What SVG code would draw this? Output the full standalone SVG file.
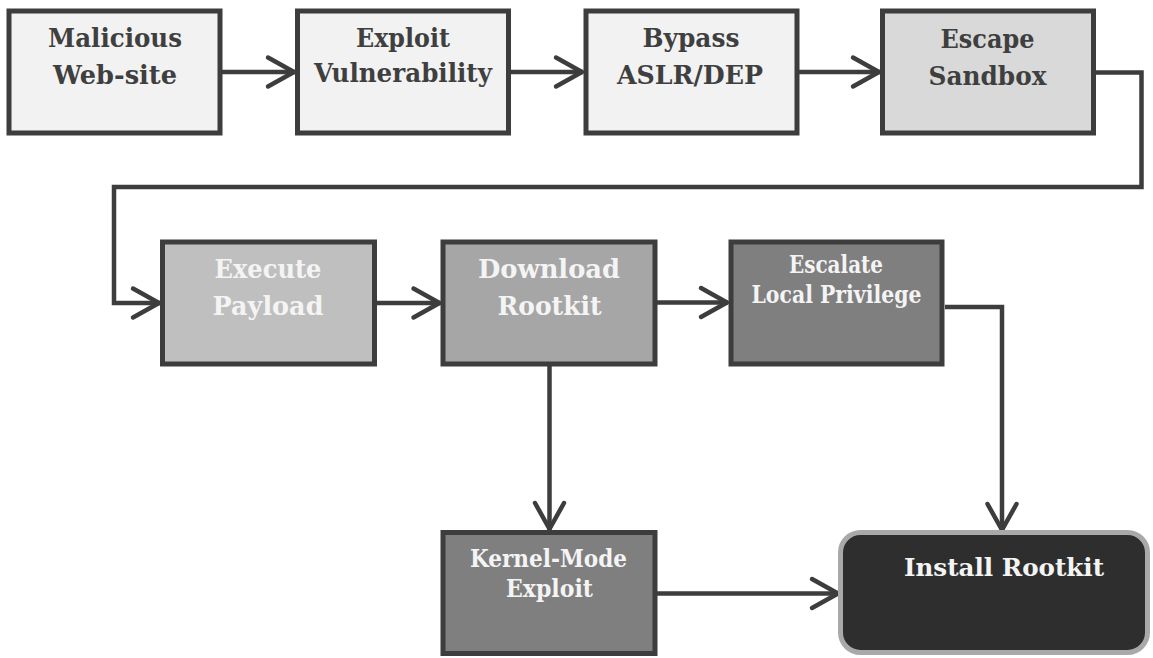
<svg xmlns="http://www.w3.org/2000/svg" width="1153" height="658" viewBox="0 0 1153 658">
  <defs>
    <marker id="chevron" markerUnits="userSpaceOnUse" orient="auto" refX="0" refY="0" markerWidth="40" markerHeight="40" overflow="visible">
      <path d="M-27,-14.5 L-1,0 L-27,14.5" fill="none" stroke="#3d3d3d" stroke-width="4.5" stroke-linecap="round" stroke-linejoin="round"/>
    </marker>
    <style>
      .box { stroke: #3d3d3d; stroke-width: 5; }
      .light { fill: #f2f2f2; }
      .mid { fill: #d9d9d9; }
      .g1 { fill: #bfbfbf; }
      .g2 { fill: #a6a6a6; }
      .g3 { fill: #7f7f7f; }
      .final { fill: #2e2e2e; stroke: #a9a9a9; stroke-width: 5; }
      .lbl { font-family: "DejaVu Serif", "Liberation Serif", serif; font-weight: bold; text-anchor: middle; }
      .dark { fill: #3f3f3f; font-size: 26.5px; }
      .pale { fill: #f4f4f4; font-size: 26.5px; }
      .small { fill: #f4f4f4; font-size: 24.5px; }
      .conn { fill: none; stroke: #3d3d3d; stroke-width: 4.5; marker-end: url(#chevron); }
    </style>
  </defs>

  <!-- connectors -->
  <g id="connectors">
    <path class="conn" d="M222,72 H295"/>
    <path class="conn" d="M511,72 H583"/>
    <path class="conn" d="M799,72 H880"/>
    <path class="conn" d="M1096,72.5 H1141.5 V187 H114 V303 H160"/>
    <path class="conn" d="M377,303 H440.5"/>
    <path class="conn" d="M657,302.5 H728"/>
    <path class="conn" d="M549.5,366 V530"/>
    <path class="conn" d="M945,307 H1002 V531"/>
    <path class="conn" d="M657,593.5 H839"/>
  </g>

  <!-- first row -->
  <g id="malicious-website">
    <rect class="box light" x="9" y="11" width="211" height="122"/>
    <text class="lbl dark" x="115" y="47" textLength="134" lengthAdjust="spacingAndGlyphs">Malicious</text>
    <text class="lbl dark" x="115" y="84" textLength="124" lengthAdjust="spacingAndGlyphs">Web-site</text>
  </g>
  <g id="exploit-vulnerability">
    <rect class="box light" x="297.5" y="11" width="211" height="122"/>
    <text class="lbl dark" x="403" y="47" textLength="94" lengthAdjust="spacingAndGlyphs">Exploit</text>
    <text class="lbl dark" x="403" y="82" textLength="178" lengthAdjust="spacingAndGlyphs">Vulnerability</text>
  </g>
  <g id="bypass-aslr-dep">
    <rect class="box light" x="586" y="11" width="211" height="122"/>
    <text class="lbl dark" x="691" y="47" textLength="97" lengthAdjust="spacingAndGlyphs">Bypass</text>
    <text class="lbl dark" x="690" y="84" textLength="146" lengthAdjust="spacingAndGlyphs">ASLR/DEP</text>
  </g>
  <g id="escape-sandbox">
    <rect class="box mid" x="882.5" y="11" width="211" height="122"/>
    <text class="lbl dark" x="987.5" y="48" textLength="94" lengthAdjust="spacingAndGlyphs">Escape</text>
    <text class="lbl dark" x="987.5" y="85" textLength="118" lengthAdjust="spacingAndGlyphs">Sandbox</text>
  </g>

  <!-- second row -->
  <g id="execute-payload">
    <rect class="box g1" x="162.5" y="242" width="212" height="122"/>
    <text class="lbl pale" x="268" y="278" textLength="107" lengthAdjust="spacingAndGlyphs">Execute</text>
    <text class="lbl pale" x="268" y="315" textLength="111" lengthAdjust="spacingAndGlyphs">Payload</text>
  </g>
  <g id="download-rootkit">
    <rect class="box g2" x="443" y="242" width="212" height="122"/>
    <text class="lbl pale" x="549" y="278" textLength="142" lengthAdjust="spacingAndGlyphs">Download</text>
    <text class="lbl pale" x="549.5" y="315" textLength="104" lengthAdjust="spacingAndGlyphs">Rootkit</text>
  </g>
  <g id="escalate-privilege">
    <rect class="box g3" x="731" y="242" width="211" height="122"/>
    <text class="lbl small" x="836" y="273" textLength="94" lengthAdjust="spacingAndGlyphs">Escalate</text>
    <text class="lbl small" x="836.5" y="303" textLength="170" lengthAdjust="spacingAndGlyphs">Local Privilege</text>
  </g>

  <!-- bottom row -->
  <g id="kernel-mode-exploit">
    <rect class="box g3" x="443" y="532.5" width="212" height="121"/>
    <text class="lbl small" x="548.5" y="567" textLength="157" lengthAdjust="spacingAndGlyphs">Kernel-Mode</text>
    <text class="lbl small" x="549.5" y="597" textLength="87" lengthAdjust="spacingAndGlyphs">Exploit</text>
  </g>
  <g id="install-rootkit">
    <rect class="final" x="840.5" y="532.5" width="307" height="120" rx="20" ry="20"/>
    <text class="lbl small" x="1004" y="576" font-size="26" textLength="200" lengthAdjust="spacingAndGlyphs">Install Rootkit</text>
  </g>
</svg>
